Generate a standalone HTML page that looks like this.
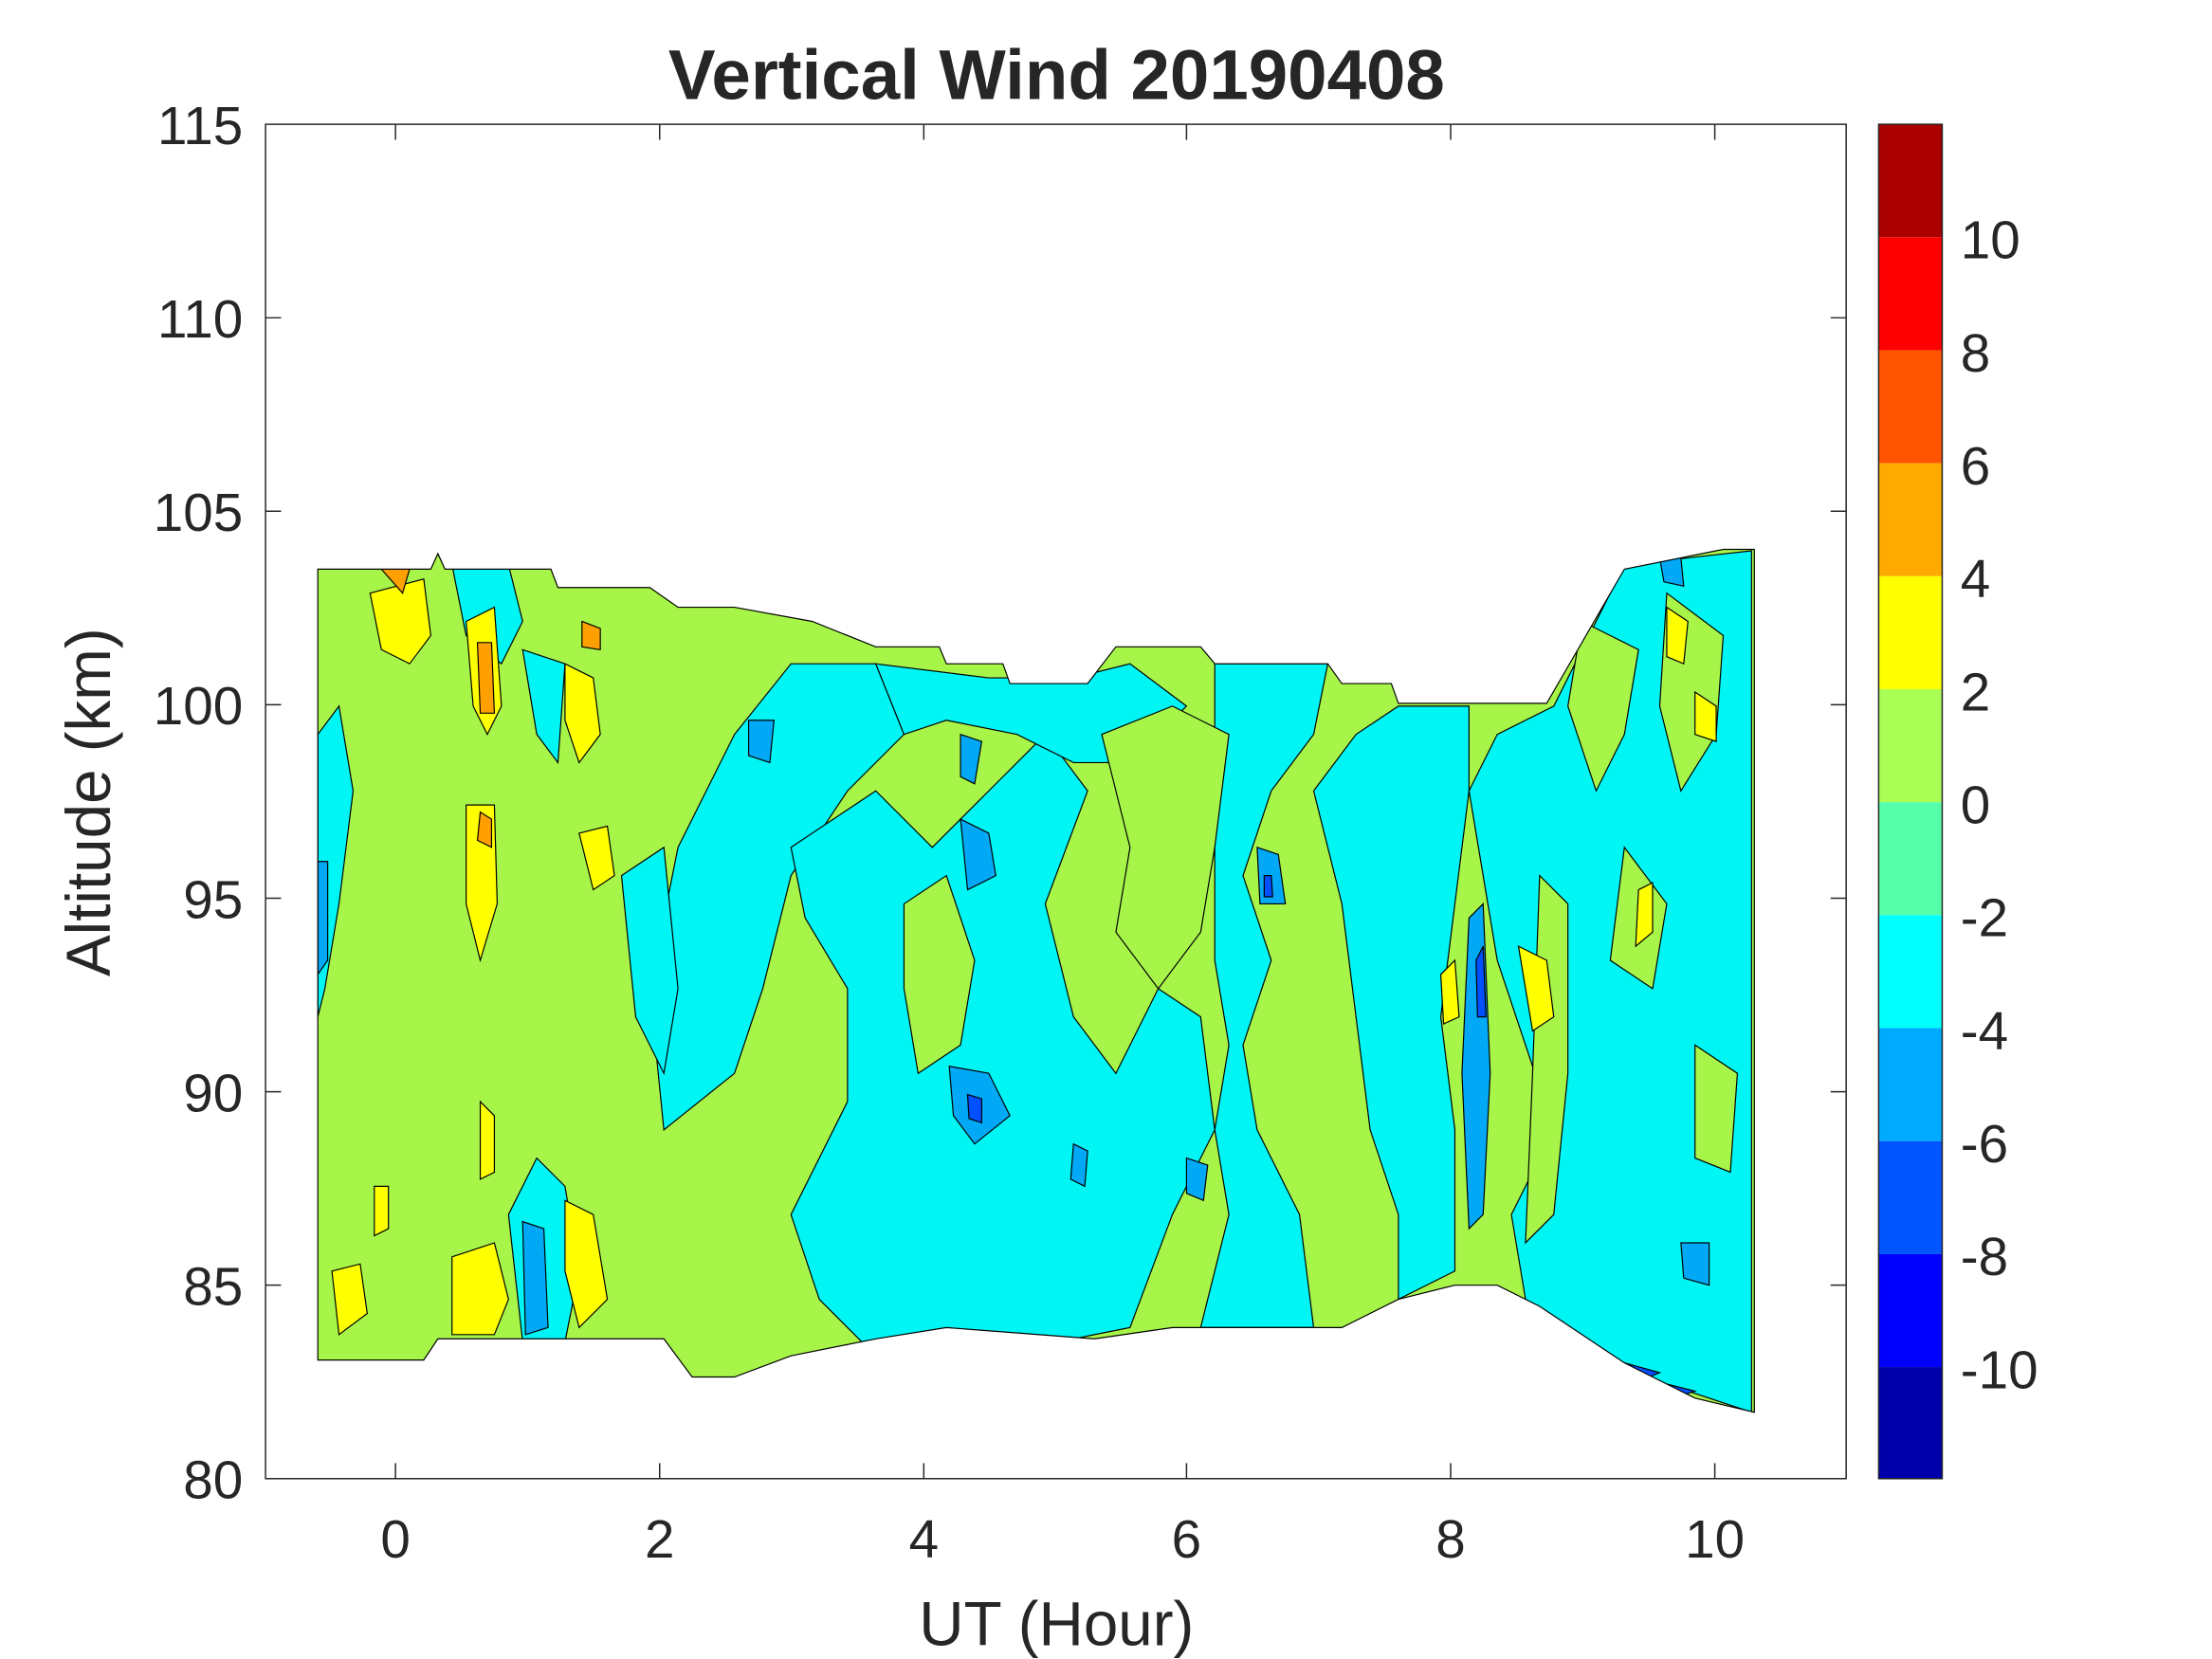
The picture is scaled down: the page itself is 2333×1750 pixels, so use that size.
<!DOCTYPE html>
<html><head><meta charset="utf-8"><style>
html,body{margin:0;padding:0;background:#fff;}
svg{display:block;}
text{font-family:"Liberation Sans",sans-serif;fill:#262626;}
</style></head><body>
<svg width="2333" height="1750" viewBox="0 0 1566 1174.7" preserveAspectRatio="none" xmlns="http://www.w3.org/2000/svg">
<rect width="1566" height="1174.7" fill="#fff"/>
<defs><clipPath id="dc"><polygon id="dp" points="225,403 305,403 310,392 315,403 390,403 395,416 460,416 480,430 520,430 575,440 620,458 665,458 670,470 710,470 715,484 770,484 790,458 850,458 860,470 940,470 950,484 985,484 990,498 1095,498 1150,403 1220,389 1242,389 1242,1000 1200,990 1150,965 1090,925 1060,910 1030,910 990,920 950,940 830,940 775,948 670,940 620,948 560,960 520,975 490,975 470,948 310,948 300,963 235,963 225,963"/></clipPath></defs>
<g clip-path="url(#dc)">
<rect x="220" y="380" width="1030" height="630" fill="#a8f54a"/>
<g fill="#00f5f5" stroke="#000" stroke-width="0.8">
<polygon points="520,520 560,470 620,470 640,520 600,560 560,620 540,700 520,760 470,800 460,700 480,600"/>
<polygon points="560,600 620,560 660,600 700,560 740,520 770,560 740,640 760,720 790,760 820,700 850,720 860,800 830,860 800,940 700,960 620,960 580,920 560,860 600,780 600,700 570,650"/>
<polygon points="620,470 700,480 760,480 800,470 840,500 800,540 760,540 720,520 670,510 640,520"/>
<polygon points="860,470 940,470 930,520 900,560 880,620 900,680 880,740 890,800 920,860 930,940 850,940 870,860 860,800 870,740 860,680"/>
<polygon points="930,560 960,520 990,500 1040,500 1040,560 1030,640 1020,720 1030,800 1030,900 990,920 990,860 970,800 960,720 950,640"/>
<polygon points="1040,560 1060,520 1100,500 1150,400 1240,390 1240,1000 1150,970 1080,920 1070,860 1100,800 1080,740 1060,680 1050,620"/>
<polygon points="360,860 380,820 400,840 410,900 400,950 370,950"/>
<polygon points="320,400 360,400 370,440 355,470 330,450"/>
<polygon points="225,520 240,500 250,560 240,640 230,700 225,720"/>
<polygon points="440,620 470,600 480,700 470,760 450,720"/>
<polygon points="370,460 400,470 395,540 380,520"/>
</g>
<g fill="#a8f54a" stroke="#000" stroke-width="0.8">
<polygon points="780,520 830,500 870,520 860,600 850,660 820,700 790,660 800,600"/>
<polygon points="1120,440 1160,460 1150,520 1130,560 1110,500"/>
<polygon points="1150,600 1180,640 1170,700 1140,680"/>
<polygon points="1180,420 1220,450 1215,520 1190,560 1175,500"/>
<polygon points="1090,620 1110,640 1110,760 1100,860 1080,880 1085,760"/>
<polygon points="640,640 670,620 690,680 680,740 650,760 640,700"/>
<polygon points="1200,740 1230,760 1225,830 1200,820"/>
</g>
<g fill="#ffff00" stroke="#000" stroke-width="0.8">
<polygon points="262,420 300,410 305,450 290,470 270,460"/>
<polygon points="330,440 350,430 355,500 345,520 335,500"/>
<polygon points="330,570 350,570 352,640 340,680 330,640"/>
<polygon points="410,590 430,585 435,620 420,630"/>
<polygon points="400,470 420,480 425,520 410,540 400,510"/>
<polygon points="320,890 350,880 360,920 350,945 320,945"/>
<polygon points="400,850 420,860 430,920 410,940 400,900"/>
<polygon points="340,780 350,790 350,830 340,835"/>
<polygon points="265,840 275,840 275,870 265,875"/>
<polygon points="235,900 255,895 260,930 240,945"/>
<polygon points="1075,670 1095,680 1100,720 1085,730"/>
<polygon points="1200,490 1215,500 1215,525 1200,520"/>
<polygon points="1160,630 1170,625 1170,660 1158,670"/>
<polygon points="1020,690 1030,680 1033,720 1022,725"/>
<polygon points="1180,430 1195,440 1192,470 1180,465"/>
</g>
<g fill="#ff9f00" stroke="#000" stroke-width="0.8">
<polygon points="338,455 348,455 350,505 340,505"/>
<polygon points="340,575 348,580 348,600 338,595"/>
<polygon points="412,440 425,445 425,460 412,458"/>
<polygon points="270,403 290,403 285,420"/>
</g>
<g fill="#00a8f5" stroke="#000" stroke-width="0.8">
<polygon points="1040,650 1050,640 1055,760 1050,860 1040,870 1035,760"/>
<polygon points="672,755 700,760 715,790 690,810 675,790"/>
<polygon points="680,580 700,590 705,620 685,630"/>
<polygon points="370,865 385,870 388,940 372,945"/>
<polygon points="890,600 905,605 910,640 892,640"/>
<polygon points="530,510 548,510 545,540 530,535"/>
<polygon points="680,520 695,525 690,555 680,550"/>
<polygon points="1190,880 1210,880 1210,910 1192,905"/>
<polygon points="1175,395 1190,395 1192,415 1178,412"/>
<polygon points="840,820 855,825 852,850 840,845"/>
<polygon points="760,810 770,815 768,840 758,835"/>
<polygon points="225,610 232,610 232,680 225,690"/>
</g>
<g fill="#0050ff" stroke="#000" stroke-width="0.8">
<polygon points="1045,680 1050,670 1052,720 1046,720"/>
<polygon points="685,775 695,778 695,795 686,792"/>
<polygon points="895,620 900,620 901,635 895,635"/>
<polygon points="1150,965 1175,972 1160,978"/>
<polygon points="1180,980 1200,985 1185,990"/>
</g>
</g>
<use href="#dp" fill="none" stroke="#000" stroke-width="0.8"/>
<rect x="188" y="88" width="1119" height="959" fill="none" stroke="#262626" stroke-width="1"/>
<g stroke="#262626" stroke-width="1">
<line x1="280" y1="1047" x2="280" y2="1036"/><line x1="467" y1="1047" x2="467" y2="1036"/><line x1="654" y1="1047" x2="654" y2="1036"/><line x1="840" y1="1047" x2="840" y2="1036"/><line x1="1027" y1="1047" x2="1027" y2="1036"/><line x1="1214" y1="1047" x2="1214" y2="1036"/>
<line x1="280" y1="88" x2="280" y2="99"/><line x1="467" y1="88" x2="467" y2="99"/><line x1="654" y1="88" x2="654" y2="99"/><line x1="840" y1="88" x2="840" y2="99"/><line x1="1027" y1="88" x2="1027" y2="99"/><line x1="1214" y1="88" x2="1214" y2="99"/>
<line x1="188" y1="225" x2="199" y2="225"/><line x1="188" y1="362" x2="199" y2="362"/><line x1="188" y1="499" x2="199" y2="499"/><line x1="188" y1="636" x2="199" y2="636"/><line x1="188" y1="773" x2="199" y2="773"/><line x1="188" y1="910" x2="199" y2="910"/>
<line x1="1307" y1="225" x2="1296" y2="225"/><line x1="1307" y1="362" x2="1296" y2="362"/><line x1="1307" y1="499" x2="1296" y2="499"/><line x1="1307" y1="636" x2="1296" y2="636"/><line x1="1307" y1="773" x2="1296" y2="773"/><line x1="1307" y1="910" x2="1296" y2="910"/>
</g>
<g font-size="38" text-anchor="middle">
<text x="280" y="1103">0</text><text x="467" y="1103">2</text><text x="654" y="1103">4</text><text x="840" y="1103">6</text><text x="1027" y="1103">8</text><text x="1214" y="1103">10</text>
</g>
<g font-size="38" text-anchor="end">
<text x="172" y="102">115</text><text x="172" y="239">110</text><text x="172" y="376">105</text><text x="172" y="513">100</text><text x="172" y="650">95</text><text x="172" y="787">90</text><text x="172" y="924">85</text><text x="172" y="1061">80</text>
</g>
<text x="748" y="1165" font-size="44" text-anchor="middle">UT (Hour)</text>
<text transform="translate(78,568) rotate(-90)" font-size="44" text-anchor="middle">Altitude (km)</text>
<text x="748" y="70" font-size="50" font-weight="bold" text-anchor="middle" fill="#000">Vertical Wind 20190408</text>
<g>
<rect x="1330" y="88" width="45" height="80" fill="#aa0000"/>
<rect x="1330" y="168" width="45" height="80" fill="#ff0000"/>
<rect x="1330" y="248" width="45" height="80" fill="#ff5500"/>
<rect x="1330" y="328" width="45" height="80" fill="#ffaa00"/>
<rect x="1330" y="408" width="45" height="80" fill="#ffff00"/>
<rect x="1330" y="488" width="45" height="80" fill="#aaff55"/>
<rect x="1330" y="568" width="45" height="80" fill="#55ffaa"/>
<rect x="1330" y="648" width="45" height="80" fill="#00ffff"/>
<rect x="1330" y="728" width="45" height="80" fill="#00aaff"/>
<rect x="1330" y="808" width="45" height="80" fill="#0055ff"/>
<rect x="1330" y="888" width="45" height="80" fill="#0000ff"/>
<rect x="1330" y="968" width="45" height="79" fill="#0000aa"/>
<rect x="1330" y="88" width="45" height="959" fill="none" stroke="#262626" stroke-width="1"/>
</g>
<g font-size="38">
<text x="1388" y="183">10</text><text x="1388" y="263">8</text><text x="1388" y="343">6</text><text x="1388" y="423">4</text><text x="1388" y="503">2</text><text x="1388" y="583">0</text><text x="1388" y="663">-2</text><text x="1388" y="743">-4</text><text x="1388" y="823">-6</text><text x="1388" y="903">-8</text><text x="1388" y="983">-10</text>
</g>
</svg>
</body></html>
